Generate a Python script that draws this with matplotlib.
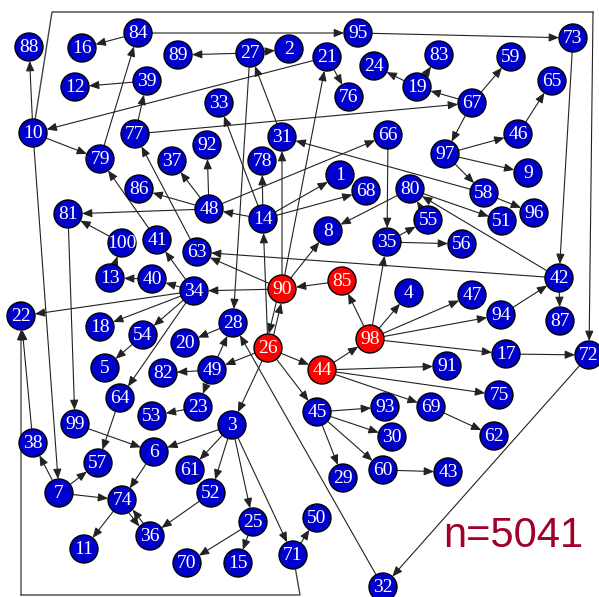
import numpy as np
import matplotlib.pyplot as plt
from matplotlib.patches import Circle, FancyArrowPatch

# node layout (pixel coords, y downwards)
pos = {
    1: (340, 175), 2: (289, 49), 3: (232, 425), 4: (409, 293), 5: (105, 368),
    6: (154, 452), 7: (59, 493), 8: (328, 231), 9: (528, 173), 10: (33, 133),
    11: (84, 549), 12: (75, 87), 13: (110, 278), 14: (263, 219), 15: (238, 563),
    16: (82, 48), 17: (506, 354), 18: (100, 327), 19: (417, 87), 20: (185, 343),
    21: (327, 57), 22: (21, 316), 23: (198, 407), 24: (374, 66), 25: (253, 522),
    26: (268, 348), 27: (250, 53), 28: (233, 323), 29: (343, 478), 30: (392, 437),
    31: (282, 137), 32: (383, 587), 33: (219, 103), 34: (194, 291), 35: (387, 242),
    36: (150, 536), 37: (172, 161), 38: (33, 443), 39: (147, 81), 40: (152, 279),
    41: (157, 240), 42: (559, 278), 43: (448, 472), 44: (322, 370), 45: (317, 412),
    46: (518, 134), 47: (472, 295), 48: (209, 209), 49: (212, 370), 50: (317, 518),
    51: (502, 221), 52: (211, 493), 53: (152, 416), 54: (143, 335), 55: (428, 220),
    56: (462, 244), 57: (98, 463), 58: (484, 193), 59: (511, 57), 60: (383, 470),
    61: (190, 470), 62: (494, 436), 63: (197, 252), 64: (120, 398), 65: (552, 81),
    66: (388, 135), 67: (472, 103), 68: (366, 191), 69: (431, 407), 70: (187, 563),
    71: (293, 555), 72: (589, 355), 73: (573, 38), 74: (122, 500), 75: (499, 395),
    76: (349, 97), 77: (135, 134), 78: (262, 161), 79: (100, 159), 80: (410, 189),
    81: (68, 214), 82: (163, 373), 83: (439, 55), 84: (138, 33), 85: (342, 281),
    86: (139, 189), 87: (560, 321), 88: (29, 47), 89: (178, 55), 90: (282, 289),
    91: (447, 366), 92: (207, 145), 93: (385, 407), 94: (501, 315), 95: (358, 33),
    96: (534, 213), 97: (445, 154), 98: (370, 339), 99: (75, 424), 100: (122, 243),
}
red_nodes = [26, 44, 85, 90, 98]

edges = [
    (84, 95), (95, 73), (84, 16), (79, 84), (27, 89), (27, 2), (39, 12), (77, 39),
    (10, 88), (10, 79), (21, 10), (77, 67), (67, 19), (19, 83), (19, 24), (67, 59),
    (67, 97), (97, 46), (46, 65), (73, 42), (21, 76), (90, 21), (31, 27), (27, 28),
    (14, 33), (14, 78), (90, 31), (26, 14), (26, 90), (90, 26), (32, 28), (72, 32),
    (28, 20), (49, 28), (26, 49), (26, 44), (44, 98), (26, 45), (26, 3), (45, 93),
    (45, 30), (45, 60), (45, 29), (49, 82), (49, 23), (23, 53), (3, 6), (3, 61),
    (3, 52), (3, 25), (3, 71), (71, 50), (25, 70), (25, 15), (52, 36), (6, 74),
    (74, 36), (36, 74), (74, 11), (7, 74), (7, 57), (7, 38), (10, 7), (81, 99),
    (38, 22), (64, 57), (99, 6), (54, 5), (34, 18), (34, 54), (34, 64), (34, 22),
    (34, 40), (40, 13), (13, 100), (100, 81), (48, 81), (48, 86), (48, 37), (48, 92),
    (14, 48), (14, 1), (14, 68), (48, 66), (58, 31), (42, 80), (55, 80), (80, 51),
    (80, 8), (35, 55), (35, 56), (66, 35), (98, 35), (98, 85), (85, 90), (90, 8),
    (90, 63), (90, 34), (42, 63), (98, 4), (98, 47), (98, 94), (98, 17), (44, 91),
    (44, 75), (44, 69), (69, 62), (60, 43), (17, 72), (42, 87), (94, 42), (34, 41),
    (41, 79), (63, 77), (97, 9), (97, 58), (58, 96),
]
# long edges routed around the outside
routed = {
    (10, 72): [(52, 12), (593, 12)],
    (71, 22): [(300, 595), (21, 595)],
}

R = 14
fig = plt.figure(figsize=(5.99, 5.97), dpi=100)
ax = fig.add_axes([0, 0, 1, 1])
ax.set_xlim(0, 599)
ax.set_ylim(597, 0)
ax.axis('off')

astyle = '-|>,head_length=0.6,head_width=0.25'


def arrow(p, q, shrink_a, shrink_b, side=0.0):
    p = np.array(p, float)
    q = np.array(q, float)
    u = (q - p) / np.linalg.norm(q - p)
    n = np.array([-u[1], u[0]]) * side
    a = p + u * shrink_a + n
    b = q - u * shrink_b + n
    ax.add_patch(FancyArrowPatch(a, b, arrowstyle=astyle, mutation_scale=10,
                                 lw=0.8, color='#222222', shrinkA=0, shrinkB=0,
                                 zorder=1))


edge_set = set(edges)
for s, t in edges:
    # pairs pointing both ways are drawn side by side
    side = 2.5 if (t, s) in edge_set else 0.0
    arrow(pos[s], pos[t], R, R, side)

for (s, t), via in routed.items():
    pts = [pos[s]] + via
    p0 = np.array(pts[0], float)
    u = (np.array(pts[1]) - p0) / np.linalg.norm(np.array(pts[1]) - p0)
    pts[0] = tuple(p0 + u * R)
    xs, ys = zip(*pts)
    ax.plot(xs, ys, color='#444444', lw=1.0, zorder=1)
    arrow(via[-1], pos[t], 0, R)

for n, (x, y) in pos.items():
    fc = '#ff0000' if n in red_nodes else '#0000cc'
    ax.add_patch(Circle((x, y), R, facecolor=fc, edgecolor='black', lw=1.0, zorder=2))
    ax.text(x, y + 0.5, str(n), color='white', ha='center', va='center',
            family='Liberation Serif', fontsize=14, zorder=3)

ax.text(583, 547, 'n=5041', color='#a0002a', ha='right', va='baseline',
        family='Liberation Sans', fontsize=30)

fig.savefig('out.png', dpi=100)
